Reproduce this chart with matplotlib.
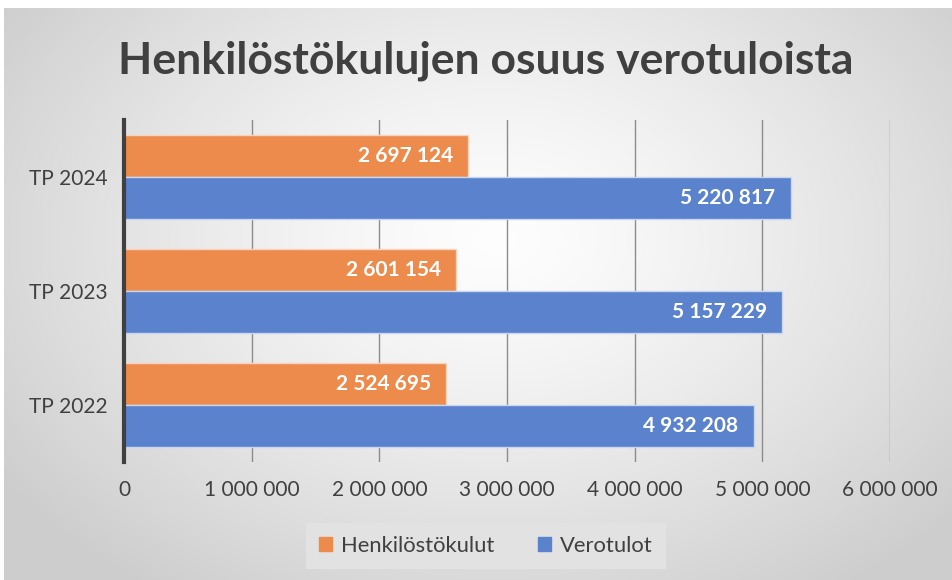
import numpy as np
import matplotlib
matplotlib.use("Agg")
import matplotlib.pyplot as plt
from matplotlib.ticker import FuncFormatter
from matplotlib.patches import Rectangle

categories = ["TP 2022", "TP 2023", "TP 2024"]
henkilosto = [2524695, 2601154, 2697124]
verotulot = [4932208, 5157229, 5220817]
series_names = ["Henkilöstökulut", "Verotulot"]
title = "Henkilöstökulujen osuus verotuloista"

ORANGE = "#ED8B4C"
BLUE = "#5B82CC"
TXT = "#404040"

plt.rcParams['font.family'] = ['Lato', 'DejaVu Sans']

W, H = 952, 580
fig = plt.figure(figsize=(W / 100, H / 100), dpi=100)
fig.patch.set_facecolor("white")

# background radial gradient
bg = fig.add_axes([4 / W, 0, 1 - 4 / W, 1 - 8 / H])
bg.set_axis_off()
yy, xx = np.mgrid[0:200, 0:300]
cx, cy = 155, 80
d = np.sqrt(((xx - cx) / 190.0) ** 2 + ((yy - cy) / 150.0) ** 2)
d = np.clip(d, 0, 1)
val = 0.995 - 0.19 * d ** 1.3
img = np.dstack([val, val, val])
bg.imshow(img, aspect="auto", extent=[0, 1, 0, 1], interpolation="bilinear")
bg.set_xlim(0, 1)
bg.set_ylim(0, 1)

# main axes
x0, x1 = 124, 890
y0, y1 = 120, 462
ax = fig.add_axes([x0 / W, 1 - y1 / H, (x1 - x0) / W, (y1 - y0) / H])
ax.patch.set_alpha(0)

ypos = np.arange(len(categories))
h = 0.365
ax.barh(ypos + h / 2 + 0.004, henkilosto, height=h, color=ORANGE,
        edgecolor="#f6d3bd", linewidth=1.0, zorder=3)
ax.barh(ypos - h / 2 - 0.004, verotulot, height=h, color=BLUE,
        edgecolor="#c9d6ef", linewidth=1.0, zorder=3)

def fmt(v):
    return f"{int(v):,}".replace(",", " ")

for i in range(len(categories)):
    ax.text(henkilosto[i] - 120000, ypos[i] + h / 2 + 0.004, fmt(henkilosto[i]),
            ha="right", va="center", color="white", fontsize=15,
            fontweight="bold", zorder=4)
    ax.text(verotulot[i] - 120000, ypos[i] - h / 2 - 0.004, fmt(verotulot[i]),
            ha="right", va="center", color="white", fontsize=15,
            fontweight="bold", zorder=4)

ax.set_xlim(0, 6000000)
ax.set_ylim(-0.5, 2.5)
ax.set_xticks(np.arange(0, 6000001, 1000000))
ax.xaxis.set_major_formatter(FuncFormatter(lambda v, p: fmt(v)))
ax.set_yticks(ypos)
ax.set_yticklabels(categories)
ax.tick_params(axis="both", length=0, labelsize=15, colors=TXT)
ax.tick_params(axis="x", pad=13)
ax.tick_params(axis="y", pad=12)
ax.grid(axis="x", color="#8c8c8c", linewidth=1.0, zorder=1)
ax.set_axisbelow(True)
for s in ["top", "right", "bottom"]:
    ax.spines[s].set_visible(False)
ax.spines["left"].set_color("#404040")
ax.spines["left"].set_linewidth(3)
ax.spines["left"].set_zorder(5)

fig.text(486 / W, 1 - 61 / H, title, ha="center", va="center",
         fontsize=32, fontweight="bold", color=TXT)

# legend
leg = fig.legend(handles=[Rectangle((0, 0), 1, 1, color=ORANGE),
                          Rectangle((0, 0), 1, 1, color=BLUE)],
                 labels=series_names, loc="center",
                 bbox_to_anchor=(486 / W, 1 - 546 / H), ncol=2,
                 frameon=True, fontsize=15.8, handlelength=0.6, handleheight=0.6,
                 handletextpad=0.4, columnspacing=2.0, borderpad=0.6,
                 fancybox=False, labelcolor=TXT)
leg.get_frame().set_facecolor("#e2e2e2")
leg.get_frame().set_edgecolor("none")
leg.get_frame().set_alpha(1)

fig.savefig("out.png", dpi=100, facecolor="white")
